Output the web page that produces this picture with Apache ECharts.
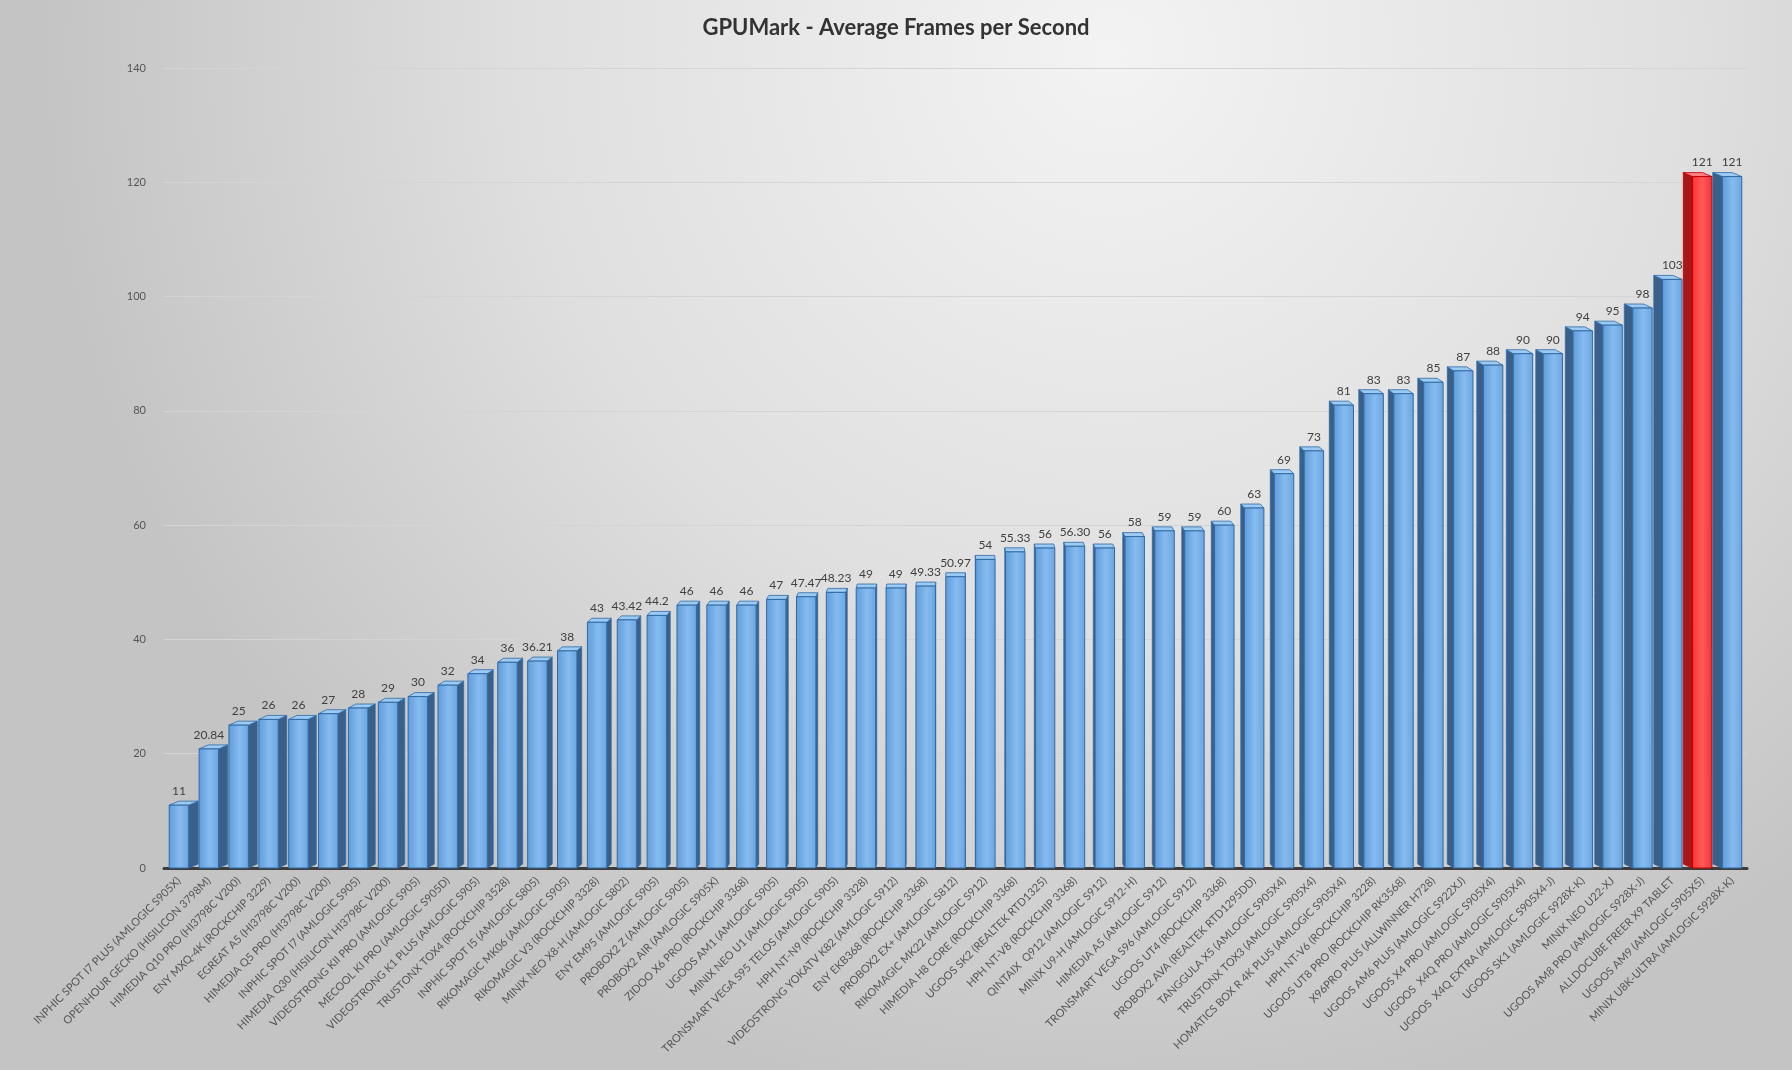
<!DOCTYPE html>
<html>
<head>
<meta charset="utf-8">
<script src="https://cdn.jsdelivr.net/npm/echarts@6/dist/echarts.min.js"></script>
<style>
html,body{margin:0;padding:0;}
#chart{width:1792px;height:1070px;}
</style>
</head>
<body>
<div id="chart"></div>
<script>
const chartTitle = "GPUMark - Average Frames per Second";
const categories = [
"INPHIC SPOT I7 PLUS (AMLOGIC S905X)",
"OPENHOUR GECKO (HISILICON 3798M)",
"HIMEDIA Q10 PRO (HI3798C V200)",
"ENY MXQ-4K (ROCKCHIP 3229)",
"EGREAT A5 (HI3798C V200)",
"HIMEDIA Q5 PRO (HI3798C V200)",
"INPHIC SPOT I7 (AMLOGIC S905)",
"HIMEDIA Q30 (HISILICON HI3798C V200)",
"VIDEOSTRONG KII PRO (AMLOGIC S905)",
"MECOOL KI PRO (AMLOGIC S905D)",
"VIDEOSTRONG K1 PLUS (AMLOGIC S905)",
"TRUSTONX TOX4 (ROCKCHIP 3528)",
"INPHIC SPOT I5 (AMLOGIC S805)",
"RIKOMAGIC MK06 (AMLOGIC S905)",
"RIKOMAGIC V3 (ROCKCHIP 3328)",
"MINIX NEO X8-H (AMLOGIC S802)",
"ENY EM95 (AMLOGIC S905)",
"PROBOX2 Z (AMLOGIC S905)",
"PROBOX2 AIR (AMLOGIC S905X)",
"ZIDOO X6 PRO (ROCKCHIP 3368)",
"UGOOS AM1 (AMLOGIC S905)",
"MINIX NEO U1 (AMLOGIC S905)",
"TRONSMART VEGA S95 TELOS (AMLOGIC S905)",
"HPH NT-N9 (ROCKCHIP 3328)",
"VIDEOSTRONG YOKATV K82 (AMLOGIC S912)",
"ENY EKB368 (ROCKCHIP 3368)",
"PROBOX2 EX+ (AMLOGIC S812)",
"RIKOMAGIC MK22 (AMLOGIC S912)",
"HIMEDIA H8 CORE (ROCKCHIP 3368)",
"UGOOS SK2 (REALTEK RTD1325)",
"HPH NT-V8 (ROCKCHIP 3368)",
"QINTAIX  Q912 (AMLOGIC S912)",
"MINIX U9-H (AMLOGIC S912-H)",
"HIMEDIA A5 (AMLOGIC S912)",
"TRONSMART VEGA S96 (AMLOGIC S912)",
"UGOOS UT4 (ROCKCHIP 3368)",
"PROBOX2 AVA (REALTEK RTD1295DD)",
"TANGGULA X5 (AMLOGIC S905X4)",
"TRUSTONX TOX3 (AMLOGIC S905X4)",
"HOMATICS BOX R 4K PLUS (AMLOGIC S905X4)",
"HPH NT-V6 (ROCKCHIP 3228)",
"UGOOS UT8 PRO (ROCKCHIP RK3568)",
"X96PRO PLUS (ALLWINNER H728)",
"UGOOS AM6 PLUS (AMLOGIC S922XJ)",
"UGOOS X4 PRO (AMLOGIC S905X4)",
"UGOOS  X4Q PRO (AMLOGIC S905X4)",
"UGOOS  X4Q EXTRA (AMLOGIC S905X4-J)",
"UGOOS SK1 (AMLOGIC S928X-K)",
"MINIX NEO U22-XJ",
"UGOOS AM8 PRO (AMLOGIC S928X-J)",
"ALLDOCUBE FREER X9 TABLET",
"UGOOS AM9 (AMLOGIC S905X5)",
"MINIX U8K-ULTRA (AMLOGIC S928X-K)"
];
const fpsValues = [11,20.84,25,26,26,27,28,29,30,32,34,36,36.21,38,43,43.42,44.2,46,46,46,47,47.47,48.23,49,49,49.33,50.97,54,55.33,56,56.30,56,58,59,59,60,63,69,73,81,83,83,85,87,88,90,90,94,95,98,103,121,121];
const valueText = ["11","20.84","25","26","26","27","28","29","30","32","34","36","36.21","38","43","43.42","44.2","46","46","46","47","47.47","48.23","49","49","49.33","50.97","54","55.33","56","56.30","56","58","59","59","60","63","69","73","81","83","83","85","87","88","90","90","94","95","98","103","121","121"];
const highlightIndex = [51];
const yTicks = {min:0, max:140, interval:20};

const G = echarts.graphic;
const FONT = 'Lato, "Open Sans", sans-serif';
const palette = {
  blue: {
    front: new G.LinearGradient(0,0,1,0,[{offset:0,color:'#5f9cd9'},{offset:0.45,color:'#7fb6ec'},{offset:0.55,color:'#86bbef'},{offset:1,color:'#6aa5e0'}]),
    border:'#2f6aa6', side:'#3a6089', top:'#9ccaf3'
  },
  red: {
    front: new G.LinearGradient(0,0,1,0,[{offset:0,color:'#ff3030'},{offset:0.5,color:'#ff5a5a'},{offset:1,color:'#f23232'}]),
    border:'#c00000', side:'#a81818', top:'#ff8080'
  }
};

const n = fpsValues.length;
const mid = (n - 1) / 2;
const seriesData = fpsValues.map((v, i) => [i, v]);

function renderBar(params, api) {
  const i = api.value(0);
  const v = api.value(1);
  const top = api.coord([i, v]);
  const base = api.coord([i, 0]);
  const bw = api.size([1, 0])[0];
  const fw = bw * 0.65;
  const t = (i - mid) / mid;
  const d = -t * bw * 0.32;
  const dy = 4;
  const xl = top[0] - fw / 2, xr = top[0] + fw / 2;
  const c = highlightIndex.includes(i) ? palette.red : palette.blue;
  const sx = d >= 0 ? xr : xl;
  const children = [];
  children.push({
    type:'polygon',
    shape:{points:[[sx, top[1]],[sx + d, top[1] - dy],[sx + d, base[1] - dy],[sx, base[1]]]},
    style:{fill:c.side, stroke:c.border, lineWidth:0.8}
  });
  children.push({
    type:'polygon',
    shape:{points:[[xl, top[1]],[xr, top[1]],[xr + d, top[1] - dy],[xl + d, top[1] - dy]]},
    style:{fill:c.top, stroke:c.border, lineWidth:0.8}
  });
  children.push({
    type:'rect',
    shape:{x:xl, y:top[1], width:fw, height:base[1] - top[1]},
    style:{fill:c.front, stroke:c.border, lineWidth:1}
  });
  children.push({
    type:'text',
    style:{text:valueText[i], x:top[0], y:top[1] - 8, align:'center', verticalAlign:'bottom',
      fill:'#404040', font:'12px ' + FONT}
  });
  return {type:'group', children};
}

const chart = echarts.init(document.getElementById('chart'), null, {renderer:'canvas'});
chart.setOption({
  backgroundColor: new G.RadialGradient(0.62,0.05,1.0,[
    {offset:0,color:'#f3f3f3'},{offset:0.55,color:'#dfdfdf'},{offset:1,color:'#c4c4c4'}]),
  textStyle:{fontFamily:FONT},
  title:{
    text: chartTitle, left:'center', top:12,
    textStyle:{fontFamily:FONT, fontSize:22, fontWeight:'bold', color:'#333333'}
  },
  grid:{left:164, right:45, top:68, bottom:202, containLabel:false},
  xAxis:{
    type:'category', data: categories,
    axisLine:{show:true, lineStyle:{color:'#3c3c3c', width:3}},
    axisTick:{show:false},
    axisLabel:{interval:0, rotate:45, margin:11, fontSize:11, color:'#555555', fontFamily:FONT}
  },
  yAxis:{
    type:'value', min:yTicks.min, max:yTicks.max, interval:yTicks.interval,
    axisLine:{show:false}, axisTick:{show:false},
    axisLabel:{fontSize:11, color:'#555555', margin:18},
    splitLine:{lineStyle:{color:'#d4d4d4', width:1}}
  },
  series:[{
    type:'custom', renderItem: renderBar, data: seriesData,
    encode:{x:0, y:1}, clip:false
  }]
});
</script>
</body>
</html>
